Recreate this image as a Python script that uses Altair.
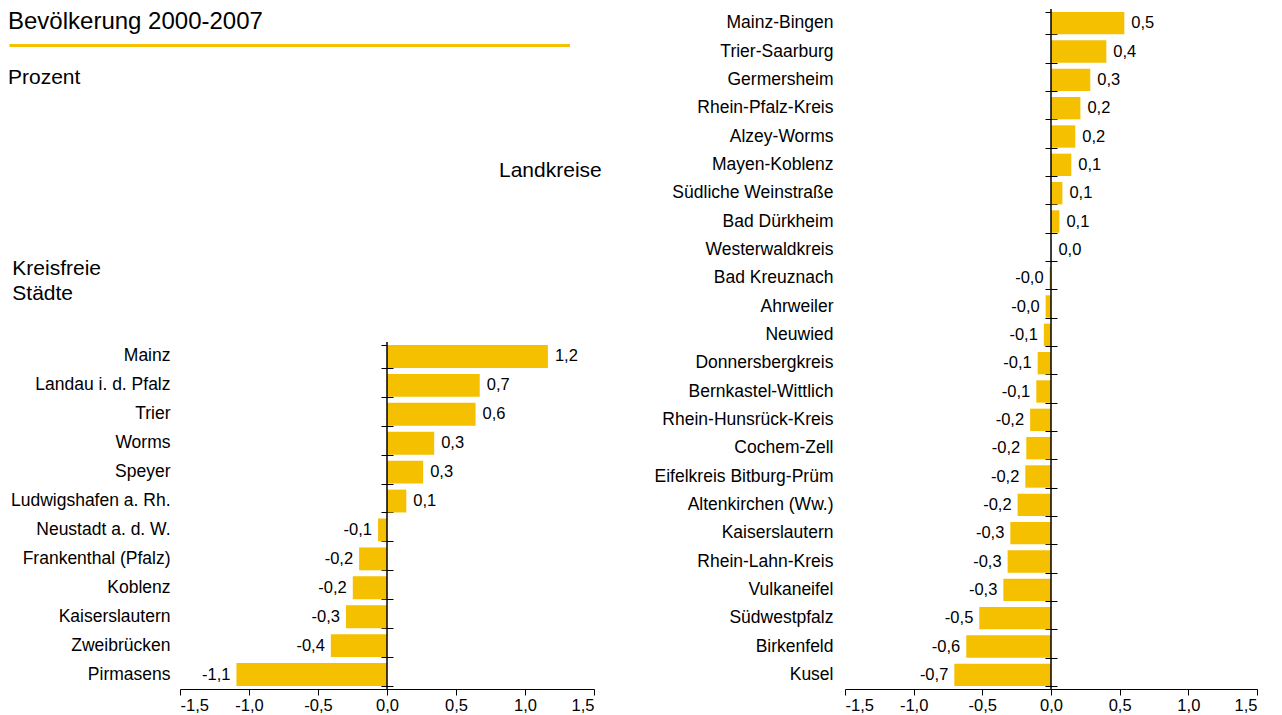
import altair as alt
import pandas as pd

# ---------------- data ----------------
staedte = ["Mainz", "Landau i. d. Pfalz", "Trier", "Worms", "Speyer",
           "Ludwigshafen a. Rh.", "Neustadt a. d. W.", "Frankenthal (Pfalz)",
           "Koblenz", "Kaiserslautern", "Zweibrücken", "Pirmasens"]
staedte_werte = [1.166, 0.672, 0.642, 0.342, 0.262, 0.140, -0.065, -0.202,
                 -0.248, -0.297, -0.407, -1.091]
staedte_labels = ["1,2", "0,7", "0,6", "0,3", "0,3", "0,1", "-0,1", "-0,2",
                  "-0,2", "-0,3", "-0,4", "-1,1"]

kreise = ["Mainz-Bingen", "Trier-Saarburg", "Germersheim", "Rhein-Pfalz-Kreis",
          "Alzey-Worms", "Mayen-Koblenz", "Südliche Weinstraße", "Bad Dürkheim",
          "Westerwaldkreis", "Bad Kreuznach", "Ahrweiler", "Neuwied",
          "Donnersbergkreis", "Bernkastel-Wittlich", "Rhein-Hunsrück-Kreis",
          "Cochem-Zell", "Eifelkreis Bitburg-Prüm", "Altenkirchen (Ww.)",
          "Kaiserslautern", "Rhein-Lahn-Kreis", "Vulkaneifel", "Südwestpfalz",
          "Birkenfeld", "Kusel"]
kreise_werte = [0.534, 0.403, 0.286, 0.214, 0.177, 0.148, 0.083, 0.061,
                0.003, -0.010, -0.039, -0.052, -0.097, -0.107, -0.152,
                -0.180, -0.187, -0.243, -0.296, -0.316, -0.347, -0.522,
                -0.617, -0.704]
kreise_labels = ["0,5", "0,4", "0,3", "0,2", "0,2", "0,1", "0,1", "0,1",
                 "0,0", "-0,0", "-0,0", "-0,1", "-0,1", "-0,1", "-0,2",
                 "-0,2", "-0,2", "-0,2", "-0,3", "-0,3", "-0,3", "-0,5",
                 "-0,6", "-0,7"]

x_ticks = [-1.5, -1.0, -0.5, 0.0, 0.5, 1.0, 1.5]

titel = "Bevölkerung 2000-2007"
einheit = "Prozent"
gruppe_kreise = "Landkreise"
gruppe_staedte = ["Kreisfreie", "Städte"]

# ---------------- style ----------------
YELLOW = "#F5C000"
FONT = "Liberation Sans"
LABEL_EXPR = ("(datum.value < 0 ? '-' : '') + "
              "replace(format(abs(datum.value), '.1f'), '.', ',')")


def panel(names, values, labels, width, height, label_pad):
    df = pd.DataFrame({"name": names, "v": values, "lab": labels})
    base = alt.Chart(df)
    xscale = alt.Scale(domain=[-1.5, 1.5], nice=False, zero=False)
    xaxis = alt.Axis(values=x_ticks, labelExpr=LABEL_EXPR, title=None,
                     grid=False, domainColor="black", domainWidth=1,
                     tickColor="black", tickSize=6, labelPadding=2,
                     labelFontSize=16.5, labelColor="black", labelFont=FONT)
    xenc = alt.X("v:Q", scale=xscale, axis=xaxis)
    yscale = alt.Scale(paddingInner=0.21, paddingOuter=0.105)

    bars = base.mark_bar(color=YELLOW).encode(
        x=xenc,
        y=alt.Y("name:N", sort=names, scale=yscale,
                axis=alt.Axis(title=None, ticks=False, domain=False,
                              labelPadding=label_pad, labelFontSize=17.5,
                              labelLimit=400, labelColor="black",
                              labelFont=FONT)),
    )
    zero = alt.Chart(pd.DataFrame({"z": [0]})).mark_rule(
        color="black", strokeWidth=1.5).encode(x=alt.datum(0, scale=xscale))

    offset = -(width / 2 + 6)
    pos = base.transform_filter("datum.v >= 0").mark_text(
        align="left", baseline="middle", dx=7, fontSize=16.5, font=FONT,
        color="black").encode(
        x=xenc,
        y=alt.Y("name:N", sort=names, scale=yscale,
                axis=alt.Axis(orient="right", offset=offset, labels=False,
                              domain=False, ticks=True, tickSize=12,
                              tickBand="extent", tickColor="black",
                              tickWidth=1, title=None, grid=False)),
        text="lab:N",
    )
    neg = base.transform_filter("datum.v < 0").mark_text(
        align="right", baseline="middle", dx=-6, fontSize=16.5, font=FONT,
        color="black").encode(
        x=xenc,
        y=alt.Y("name:N", sort=names, scale=yscale, axis=None),
        text="lab:N",
    )
    return alt.layer(bars, zero, pos, neg).resolve_axis(
        y="independent").properties(width=width, height=height)


one = pd.DataFrame({"a": [0]})


def label(text, x, y, size):
    return alt.Chart(one).mark_text(
        align="left", baseline="alphabetic", fontSize=size, font=FONT,
        color="black").encode(x=alt.value(x), y=alt.value(y),
                              text=alt.value(text))


header = alt.layer(
    label(titel, -172, 19.8, 24),
    alt.Chart(one).mark_rule(color=YELLOW, strokeWidth=3).encode(
        x=alt.value(-170.5), x2=alt.value(390), y=alt.value(36.5)),
    label(einheit, -172, 74.8, 21),
    label(gruppe_kreise, 319, 168.2, 21),
    label(gruppe_staedte[0], -167.7, 265.5, 21),
    label(gruppe_staedte[1], -167.7, 290.8, 21),
).properties(width=414, height=331.7)

left_bars = panel(staedte, staedte_werte, staedte_labels, 414, 347, 10)
right = panel(kreise, kreise_werte, kreise_labels, 412, 680, 12)

left = alt.vconcat(header, left_bars, spacing=0)

chart = alt.hconcat(left, right, spacing=52).properties(
    padding=0).configure_view(stroke=None)

chart.save("out.html", embed_options={"renderer": "svg", "actions": False})
